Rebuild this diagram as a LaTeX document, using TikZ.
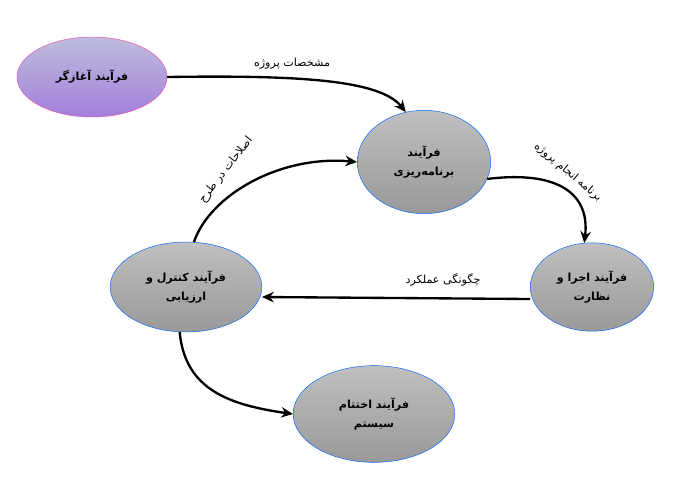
\documentclass[tikz,border=0pt]{standalone}
\usepackage{fontspec}
\newfontfamily\fafont[Script=Arabic]{DejaVu Sans}
\TeXXeTstate=1
\usetikzlibrary{shapes.geometric,arrows.meta}
\tikzset{
  stage/.style={ellipse, draw=blue!60!cyan, thin, top color=gray!50, bottom color=gray!80,
    font=\fafont\bfseries\fontsize{9.5}{16}\selectfont, align=center, inner sep=0pt},
  flow/.style={line width=2pt, -{Stealth[length=10pt,width=9pt]}},
  lbl/.style={font=\fafont\fontsize{9.5}{11}\selectfont}
}
\begin{document}
\begin{tikzpicture}[x=0.03cm, y=-0.03cm]
\useasboundingbox (0,0) rectangle (700,490);

% مراحل
\node[stage, draw=magenta!70, top color=blue!30!gray!40, bottom color=blue!45!violet!50,
  minimum width=4.5cm, minimum height=2.4cm] (init) at (92,77) {\beginR فرآیند آغازگر\endR};
\node[stage, minimum width=4.0cm, minimum height=3.1cm] (plan) at (424,162) {\beginR فرآیند\endR\\\beginR برنامه‌ریزی\endR};
\node[stage, minimum width=3.7cm, minimum height=2.65cm] (exec) at (592,287) {\beginR فرآیند اجرا و\endR\\\beginR نظارت\endR};
\node[stage, minimum width=4.55cm, minimum height=2.7cm] (ctrl) at (186,287) {\beginR فرآیند کنترل و\endR\\\beginR ارزیابی\endR};
\node[stage, minimum width=4.85cm, minimum height=2.9cm] (close) at (374,414) {\beginR فرآیند اختتام\endR\\\beginR سیستم\endR};

% پیکان‌ها
\draw[flow] (init.east) .. controls (300,75) and (380,80) .. (plan.110);
\draw[flow] (plan.-15) .. controls (560,170) and (590,195) .. (exec.100);
\draw[flow] (exec.west |- 0,299) -- (ctrl.east |- 0,297);
\draw[flow] (ctrl.80) .. controls (210,195) and (280,155) .. (plan.west);
\draw[flow] (ctrl.-98) .. controls (185,390) and (230,405) .. (close.west);

% برچسب‌ها
\node[lbl] (l1) at (292,64) {\beginR مشخصات پروژه\endR};
\node[lbl, rotate=-40] (l2) at (568,172) {\beginR برنامه انجام پروژه\endR};
\node[lbl] (l3) at (443,280) {\beginR چگونگی عملکرد\endR};
\node[lbl, rotate=52] (l4) at (226,170) {\beginR اصلاحات در طرح\endR};

\end{tikzpicture}
\end{document}
